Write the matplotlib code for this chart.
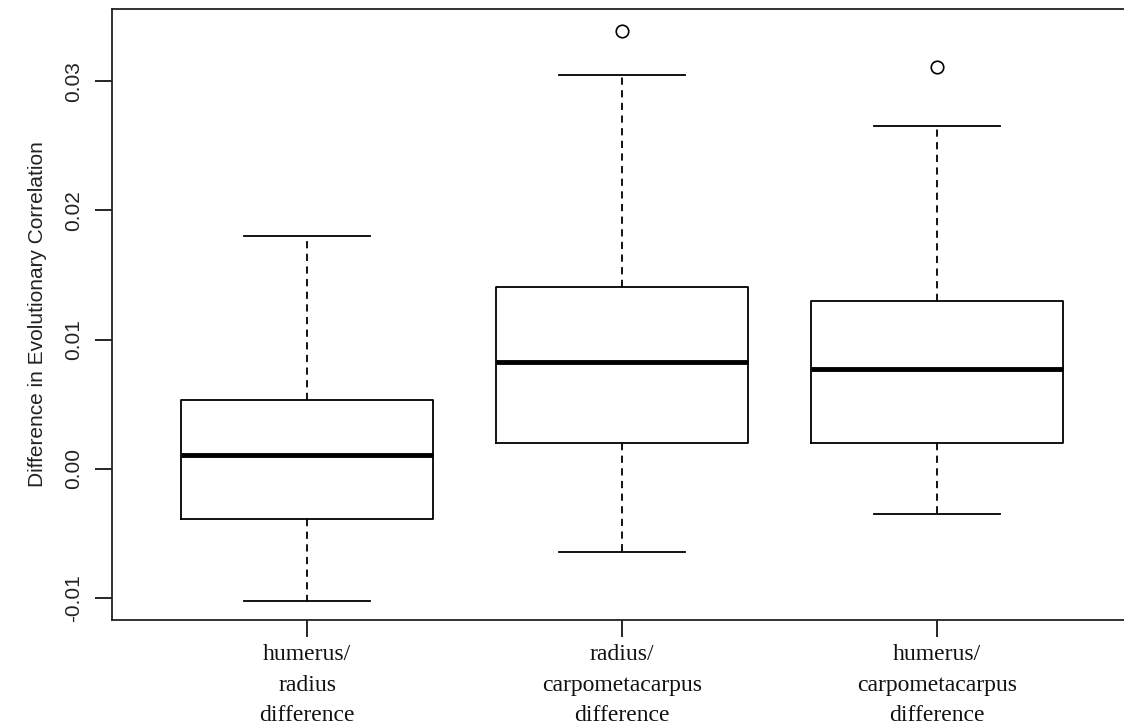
import matplotlib
matplotlib.use("Agg")
import matplotlib.pyplot as plt

# five-number summaries per comparison (whisker ends, quartiles, median) + outliers
groups = ["humerus/\nradius\ndifference",
          "radius/\ncarpometacarpus\ndifference",
          "humerus/\ncarpometacarpus\ndifference"]
whislo = [-0.0102, -0.0064, -0.0035]
q1 = [-0.0039, 0.0020, 0.0020]
med = [0.0011, 0.0083, 0.0077]
q3 = [0.0053, 0.0141, 0.0130]
whishi = [0.0180, 0.0305, 0.0265]
outliers = [[], [0.0339], [0.0311]]

yticks = [-0.01, 0.00, 0.01, 0.02, 0.03]
ytick_labels = ["-0.01", "0.00", "0.01", "0.02", "0.03"]

stats = []
for i in range(len(groups)):
    stats.append(dict(whislo=whislo[i], q1=q1[i], med=med[i], q3=q3[i],
                      whishi=whishi[i], fliers=outliers[i]))

fig = plt.figure(figsize=(11.24, 7.25), dpi=100)
ax = fig.add_axes([0.0996, 0.1448, 0.908, 0.843])

ax.bxp(stats, positions=[1, 2, 3], widths=0.8, showfliers=True,
       boxprops=dict(color="black", linewidth=1.3),
       medianprops=dict(color="black", linewidth=3.5, solid_capstyle="butt"),
       whiskerprops=dict(color="black", linewidth=1.3, linestyle=(0, (4, 3))),
       capprops=dict(color="black", linewidth=1.3),
       capwidths=0.4,
       flierprops=dict(marker="o", markerfacecolor="none", markeredgecolor="black",
                       markersize=9, markeredgewidth=1.2))

ax.set_xlim(0.38, 3.62)
ax.set_ylim(-0.0117, 0.0356)

for s in ax.spines.values():
    s.set_linewidth(1.3)
    s.set_color("#222222")

ax.set_yticks(yticks)
ax.set_yticklabels(ytick_labels, rotation=90, va="center",
                   fontfamily="Liberation Sans", fontsize=15, color="#222222")
ax.tick_params(axis="y", length=12, width=1.2, pad=9)

ax.set_xticks([1, 2, 3])
ax.set_xticklabels(groups, fontfamily="Liberation Serif", fontsize=17,
                   linespacing=1.62, color="#111111")
ax.tick_params(axis="x", length=12, width=1.2, pad=5)

ax.set_ylabel("Difference in Evolutionary Correlation", fontfamily="Liberation Sans",
              fontsize=15, color="#222222", labelpad=12)

fig.savefig("out.png", dpi=100)
